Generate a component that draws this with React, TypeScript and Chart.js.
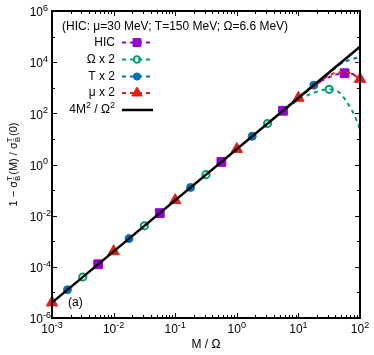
import React, { useEffect, useRef } from 'react';
import { Chart, registerables } from 'chart.js';
import { drawPoint } from 'chart.js/helpers';
Chart.register(...registerables);

// ---- data ----
const lineX = [1e-3, 100];
const lineY = [4e-6, 4e4];

const hicX = [5.62e-3, 5.62e-2, 0.562, 5.62, 56.2];
const hicY = [1.26e-4, 1.26e-2, 1.26, 126, 3700];
const hicCurveX = [5.62, 17.8, 31.6, 56.2, 73, 100];
const hicCurveY = [126, 1250, 2600, 3700, 3500, 2500];

const omX = [3.16e-3, 3.16e-2, 0.316, 3.16, 31.6];
const omY = [4e-5, 4e-3, 0.4, 40, 870];
const omCurveX = [3.16, 10, 20, 31.6, 47, 73, 90, 100];
const omCurveY = [40, 330, 700, 870, 620, 135, 48, 22];

const tX = [1.78e-3, 1.78e-2, 0.178, 1.78, 17.8];
const tY = [1.27e-5, 1.27e-3, 0.127, 12.7, 1260];
const tCurveX = [17.8, 30, 47, 73, 100];
const tCurveY = [1260, 3300, 8200, 13000, 16000];

const muX = [1e-3, 1e-2, 0.1, 1, 10, 100];
const muY = [4e-6, 4e-4, 4e-2, 4, 400, 2200];
const muCurveX = [10, 20, 29, 42, 56, 73, 100];
const muCurveY = [400, 1400, 2700, 3900, 4000, 3500, 2200];

const xTickExp = [-3, -2, -1, 0, 1, 2];
const yTickExp = [-6, -5, -4, -3, -2, -1, 0, 1, 2, 3, 4, 5, 6];
const yLabelExp = [-6, -4, -2, 0, 2, 4, 6];

const seriesNames = ['HIC', 'Ω x 2', 'T x 2', 'μ x 2'];
const legendTitle = '(HIC: μ=30 MeV; T=150 MeV; Ω=6.6 MeV)';

const PURPLE = '#9400d3';
const GREEN = '#009e73';
const BLUE = '#0072b2';
const RED = '#e51e10';
const FONT = '"Liberation Sans", Arial, sans-serif';

const xy = (xs: number[], ys: number[]) => xs.map((x, i) => ({ x, y: ys[i] }));

const markerStyles = [
  { pointStyle: 'rect', radius: 6.2, bg: PURPLE, border: PURPLE, bw: 1, color: PURPLE },
  { pointStyle: 'circle', radius: 3.6, bg: 'rgba(0,0,0,0)', border: GREEN, bw: 2, color: GREEN },
  { pointStyle: 'circle', radius: 4, bg: BLUE, border: BLUE, bw: 1, color: BLUE },
  { pointStyle: 'triangle', radius: 6.6, bg: RED, border: RED, bw: 1, color: RED },
];

function markerDs(xs: number[], ys: number[], k: number) {
  const m = markerStyles[k];
  return {
    data: xy(xs, ys),
    showLine: false,
    pointStyle: m.pointStyle,
    pointRadius: m.radius,
    pointBackgroundColor: m.bg,
    pointBorderColor: m.border,
    pointBorderWidth: m.bw,
    clip: false,
  };
}

function curveDs(xs: number[], ys: number[], color: string) {
  return {
    data: xy(xs, ys),
    showLine: true,
    borderColor: color,
    borderWidth: 2,
    borderDash: [4, 4],
    pointRadius: 0,
    cubicInterpolationMode: 'monotone',
    fill: false,
    clip: false,
  };
}

function drawPow(ctx: CanvasRenderingContext2D, x: number, y: number, exp: number, mode: 'center' | 'y') {
  const base = '10';
  const sup = exp < 0 ? '-' + String(-exp) : String(exp);
  ctx.font = `12px ${FONT}`;
  const wb = ctx.measureText(base).width;
  ctx.font = `9px ${FONT}`;
  const ws = ctx.measureText(sup).width;
  let x0: number;
  if (mode === 'center') x0 = x - (wb + ws) / 2;
  else x0 = x - wb;
  ctx.textAlign = 'left';
  ctx.textBaseline = 'middle';
  ctx.fillStyle = '#000';
  ctx.font = `12px ${FONT}`;
  ctx.fillText(base, x0, y + 2);
  ctx.font = `9px ${FONT}`;
  ctx.fillText(sup, x0 + wb, y - 2.5);
}

const decorPlugin = {
  id: 'decor',
  afterDraw(chart: any) {
    const ctx: CanvasRenderingContext2D = chart.ctx;
    const { left, right, top, bottom } = chart.chartArea;
    const xs = chart.scales.x;
    const ys = chart.scales.y;
    ctx.save();

    // ticks
    ctx.strokeStyle = '#000';
    ctx.lineWidth = 1;
    ctx.beginPath();
    xTickExp.forEach((e) => {
      const v = Math.pow(10, e);
      const px = Math.round(xs.getPixelForValue(v)) + 0.5;
      ctx.moveTo(px, bottom); ctx.lineTo(px, bottom - 5);
      ctx.moveTo(px, top); ctx.lineTo(px, top + 5);
      if (e < 2) {
        for (let m = 2; m <= 9; m++) {
          const p = Math.round(xs.getPixelForValue(v * m)) + 0.5;
          ctx.moveTo(p, bottom); ctx.lineTo(p, bottom - 3);
          ctx.moveTo(p, top); ctx.lineTo(p, top + 3);
        }
      }
    });
    yTickExp.forEach((e) => {
      const py = Math.round(ys.getPixelForValue(Math.pow(10, e))) + 0.5;
      const len = e % 2 === 0 ? 5 : 3;
      ctx.moveTo(left, py); ctx.lineTo(left + len, py);
      ctx.moveTo(right, py); ctx.lineTo(right - len, py);
    });
    ctx.stroke();

    // frame
    ctx.lineWidth = 2;
    ctx.strokeRect(left, top, right - left, bottom - top);

    // tick labels
    xTickExp.forEach((e) => {
      drawPow(ctx, xs.getPixelForValue(Math.pow(10, e)), 328, e, 'center');
    });
    yLabelExp.forEach((e) => {
      drawPow(ctx, 43, ys.getPixelForValue(Math.pow(10, e)), e, 'y');
    });

    // x title
    ctx.fillStyle = '#000';
    ctx.font = `12px ${FONT}`;
    ctx.textAlign = 'center';
    ctx.textBaseline = 'middle';
    ctx.fillText('M / Ω', (left + right) / 2, 345);

    // y title (rotated), with stacked sub/superscripts
    const pieces: { t: string; kind: 'n' | 'st' }[] = [
      { t: '1 − σ', kind: 'n' },
      { t: '', kind: 'st' },
      { t: '(M) / σ', kind: 'n' },
      { t: '', kind: 'st' },
      { t: '(0)', kind: 'n' },
    ];
    const FS = 11;
    const widths = pieces.map((p) => {
      if (p.kind === 'n') { ctx.font = `${FS}px ${FONT}`; return ctx.measureText(p.t).width; }
      ctx.font = `8px ${FONT}`;
      return Math.max(ctx.measureText('T').width, ctx.measureText('B').width) + 1;
    });
    const total = widths.reduce((a, b) => a + b, 0);
    ctx.translate(13, (top + bottom) / 2);
    ctx.rotate(-Math.PI / 2);
    let cx = -total / 2;
    ctx.textAlign = 'left';
    ctx.textBaseline = 'alphabetic';
    pieces.forEach((p, i) => {
      if (p.kind === 'n') {
        ctx.font = `${FS}px ${FONT}`;
        ctx.fillText(p.t, cx, 4);
      } else {
        ctx.font = `8px ${FONT}`;
        ctx.fillText('T', cx, -1);
        ctx.fillText('B', cx, 7);
        ctx.font = `6px ${FONT}`;
        ctx.fillText('~', cx + 1, 1.5);
      }
      cx += widths[i];
    });
    ctx.setTransform(1, 0, 0, 1, 0, 0);

    // (a)
    ctx.font = `12px ${FONT}`;
    ctx.textAlign = 'left';
    ctx.textBaseline = 'middle';
    ctx.fillText('(a)', 68, 303);

    // legend title
    ctx.fillText(legendTitle, 62, 27);

    // legend entries
    const ly = [42.5, 59.5, 76.5, 93, 110];
    ctx.textAlign = 'right';
    seriesNames.forEach((name, k) => {
      const m = markerStyles[k];
      const yy = ly[k];
      ctx.fillStyle = '#000';
      ctx.font = `12px ${FONT}`;
      ctx.textAlign = 'right';
      ctx.fillText(name, 115, yy);
      ctx.save();
      ctx.strokeStyle = m.color;
      ctx.lineWidth = 2;
      ctx.setLineDash([4, 4]);
      ctx.beginPath();
      ctx.moveTo(122, yy); ctx.lineTo(150, yy);
      ctx.stroke();
      ctx.restore();
      ctx.fillStyle = m.bg;
      ctx.strokeStyle = m.border;
      ctx.lineWidth = m.bw;
      drawPoint(ctx, { pointStyle: m.pointStyle, rotation: 0, radius: m.radius * 0.9, borderWidth: m.bw } as any, 137, yy);
    });
    // 4M^2/Ω^2
    const yb = ly[4];
    ctx.fillStyle = '#000';
    ctx.font = `9px ${FONT}`;
    const sup2 = ctx.measureText('2').width;
    ctx.font = `12px ${FONT}`;
    const wOm = ctx.measureText(' / Ω').width;
    const w4M = ctx.measureText('4M').width;
    ctx.textAlign = 'left';
    const startX = 115 - (w4M + sup2 + wOm + sup2);
    ctx.fillText('4M', startX, yb);
    ctx.font = `9px ${FONT}`;
    ctx.fillText('2', startX + w4M, yb - 4);
    ctx.font = `12px ${FONT}`;
    ctx.fillText(' / Ω', startX + w4M + sup2, yb);
    ctx.font = `9px ${FONT}`;
    ctx.fillText('2', startX + w4M + sup2 + wOm, yb - 4);
    ctx.strokeStyle = '#000';
    ctx.lineWidth = 2.5;
    ctx.beginPath();
    ctx.moveTo(122, yb); ctx.lineTo(153, yb);
    ctx.stroke();

    ctx.restore();
  },
};

export default function App() {
  const ref = useRef<HTMLCanvasElement | null>(null);
  useEffect(() => {
    document.body.style.margin = '0';
    const canvas = ref.current!;
    const chart = new Chart(canvas, {
      type: 'scatter',
      data: {
        datasets: [
          {
            data: xy(lineX, lineY),
            showLine: true,
            borderColor: '#000',
            borderWidth: 2.5,
            pointRadius: 0,
            clip: false,
          } as any,
          markerDs(muX, muY, 3),
          curveDs(muCurveX, muCurveY, RED),
          markerDs(tX, tY, 2),
          curveDs(tCurveX, tCurveY, BLUE),
          markerDs(omX, omY, 1),
          curveDs(omCurveX, omCurveY, GREEN),
          markerDs(hicX, hicY, 0),
          curveDs(hicCurveX, hicCurveY, PURPLE),
        ] as any,
      },
      options: {
        animation: false,
        responsive: false,
        devicePixelRatio: 1,
        layout: { padding: { left: 52, right: 14, top: 11, bottom: 37 } },
        plugins: { legend: { display: false }, tooltip: { enabled: false } },
        events: [],
        scales: {
          x: { type: 'logarithmic', min: 1e-3, max: 100, display: false },
          y: { type: 'logarithmic', min: 1e-6, max: 1e6, display: false },
        },
      } as any,
      plugins: [decorPlugin],
    });
    return () => chart.destroy();
  }, []);
  return (
    <div style={{ width: 374, height: 355 }}>
      <canvas ref={ref} width={374} height={355} style={{ display: 'block' }} />
    </div>
  );
}
